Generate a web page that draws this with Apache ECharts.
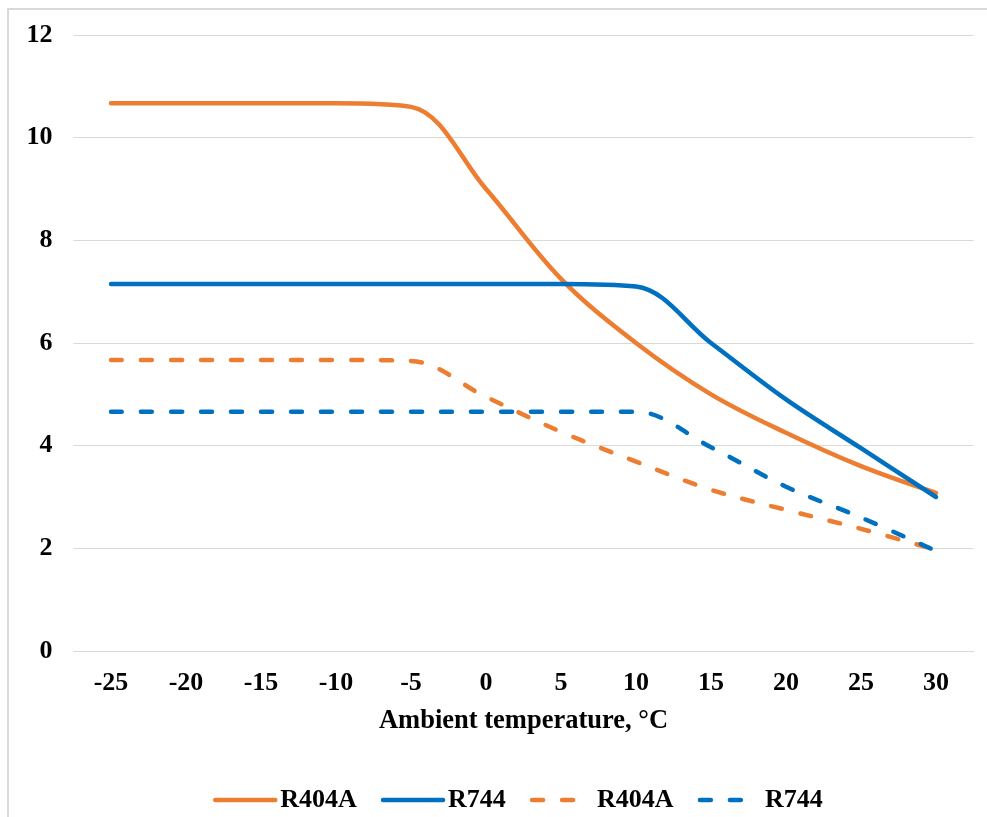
<!DOCTYPE html>
<html>
<head>
<meta charset="utf-8">
<script src="https://cdn.jsdelivr.net/npm/echarts@6/dist/echarts.min.js"></script>
<style>
html,body{margin:0;padding:0;background:#fff;}
#c{width:987px;height:817px;}
</style>
</head>
<body>
<div id="c"></div>
<script>
const categories = ['-25','-20','-15','-10','-5','0','5','10','15','20','25','30'];
const r404aSolid = [10.67,10.67,10.67,10.67,10.6,9.0,7.25,6.0,5.0,4.25,3.6,3.08];
const r744Solid  = [7.15,7.15,7.15,7.15,7.15,7.15,7.15,7.1,6.0,4.9,3.95,3.0];
const r404aDash  = [5.67,5.67,5.67,5.67,5.65,4.95,4.27,3.69,3.14,2.75,2.38,1.97];
const r744Dash   = [4.66,4.66,4.66,4.66,4.66,4.66,4.66,4.66,3.97,3.2,2.6,1.95];
const yTicks = {min:0, max:12, interval:2};
const xTitle = 'Ambient temperature, °C';

const ORANGE = '#ED7D31', BLUE = '#0070C0';
const FONT = "'Liberation Serif','Times New Roman',serif";
const SMOOTH = 0.35;
function mk(name, data, color, dashed){
  return {
    name: name, type: 'line', data: data, smooth: SMOOTH,
    symbol: 'none', showSymbol: false,
    lineStyle: {color: color, width: 4.5, type: dashed ? [11,19] : 'solid', cap: 'round'},
    itemStyle: {color: color}
  };
}
const chart = echarts.init(document.getElementById('c'), null, {renderer:'canvas'});
chart.setOption({
  animation: false,
  backgroundColor: '#fff',
  graphic: [{
    type: 'rect', silent: true,
    shape: {x: 8, y: 9, width: 1000, height: 830},
    style: {fill: 'none', stroke: '#d9d9d9', lineWidth: 2}
  }],
  grid: {left: 73.5, right: 13.5, top: 35, bottom: 166, containLabel: false},
  xAxis: {
    type: 'category', data: categories, boundaryGap: true,
    axisLine: {show: true, lineStyle: {color: '#d9d9d9', width: 1}},
    axisTick: {show: false},
    axisLabel: {fontFamily: FONT, fontWeight: 'bold', fontSize: 26, color: '#000', margin: 19},
    name: xTitle, nameLocation: 'middle', nameGap: 57,
    nameTextStyle: {fontFamily: FONT, fontWeight: 'bold', fontSize: 26.5, color: '#000'}
  },
  yAxis: {
    type: 'value', min: yTicks.min, max: yTicks.max, interval: yTicks.interval,
    axisLine: {show: false}, axisTick: {show: false},
    splitLine: {lineStyle: {color: '#d9d9d9', width: 1}},
    axisLabel: {fontFamily: FONT, fontWeight: 'bold', fontSize: 26, color: '#000', margin: 21}
  },
  legend: {
    left: 208, top: 782, itemWidth: 60, itemHeight: 14, itemGap: 24,
    itemStyle: {opacity: 0, borderWidth: 0},
    lineStyle: {width: 4.5},
    textStyle: {fontFamily: FONT, fontWeight: 'bold', fontSize: 26, color: '#000'},
    data: ['R404A','R744','R404A ','R744 '],
    formatter: function(n){ return n.trim(); }
  },
  series: [
    mk('R404A', r404aSolid, ORANGE, false),
    mk('R744', r744Solid, BLUE, false),
    mk('R404A ', r404aDash, ORANGE, true),
    mk('R744 ', r744Dash, BLUE, true)
  ]
});
</script>
</body>
</html>
